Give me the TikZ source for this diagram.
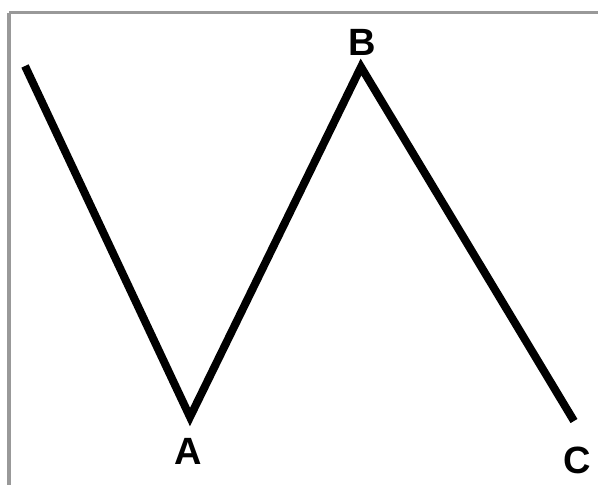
\documentclass[tikz,border=0pt]{standalone}
\usepackage{fontspec}
\setmainfont{Liberation Sans}
\begin{document}
\begin{tikzpicture}[x=1pt,y=-1pt,
  zig/.style={line width=8pt,line join=miter,miter limit=20,black},
  lbl/.style={font=\fontsize{38}{38}\selectfont\bfseries,inner sep=0pt,anchor=center},
  frame/.style={draw=gray!80,line width=3.5pt}]
\useasboundingbox (0,0) rectangle (600,485);
\fill[white] (0,0) rectangle (600,485);
\draw[frame] (9,12.5) -- (598,12.5);
\draw[frame] (9,12.5) -- (9,485);
\coordinate (S) at (25,66);
\coordinate (va) at (190,417);
\coordinate (vb) at (361,67);
\coordinate (E) at (574,421);
\draw[zig] (S) -- (va) -- (vb) -- (E);
\node[lbl] (A) at (188,451) {A};
\node[lbl] (B) at (362,42) {B};
\node[lbl] (C) at (577,460) {C};
\end{tikzpicture}
\end{document}
